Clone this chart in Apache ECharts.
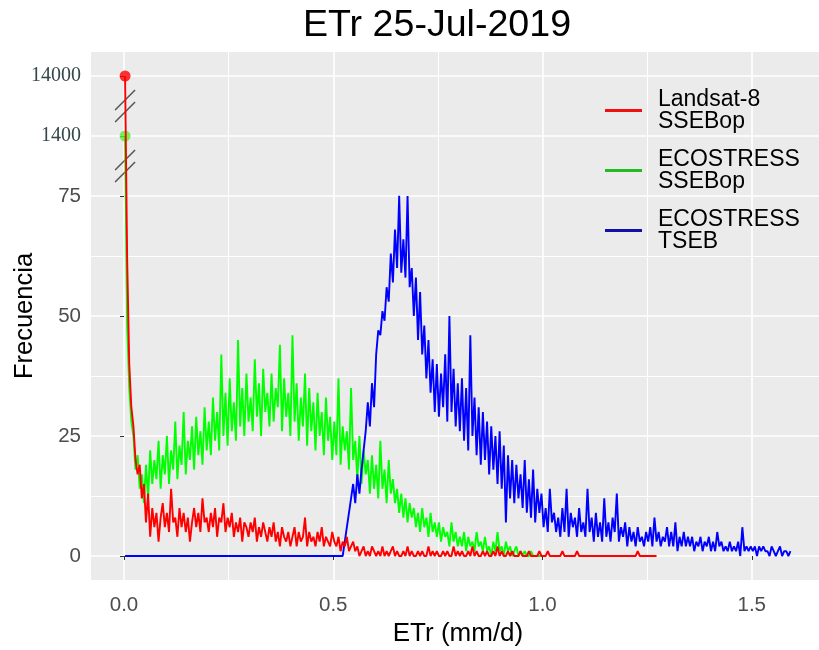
<!DOCTYPE html>
<html>
<head>
<meta charset="utf-8">
<script src="https://cdn.jsdelivr.net/npm/echarts@6/dist/echarts.min.js"></script>
<style>
    html, body { margin: 0; padding: 0; background: #ffffff; }
    #chart { width: 819px; height: 650px; }
</style>
</head>
<body>
<div id="chart"></div>
<script>
// bins of the frequency polygons (mm/d)
const binStart = 0.0025;
const binWidth = 0.005;

const landsatSsebop = [
    14000, 62, 40, 31, 27, 20, 17, 19, 12, 15,
    7, 13, 4, 10, 6, 9, 3, 8, 11, 6,
    9, 5, 14, 7, 8, 4, 10, 6, 9, 5,
    8, 3, 7, 10, 6, 9, 5, 12, 7, 8,
    5, 9, 6, 10, 4, 8, 7, 11, 5, 8,
    6, 9, 4, 7, 5, 8, 3, 7, 6, 4,
    7, 5, 8, 3, 6, 4, 7, 5, 3, 6,
    4, 7, 3, 5, 2, 6, 4, 3, 5, 2,
    4, 6, 2, 5, 3, 4, 8, 2, 5, 3,
    4, 2, 5, 3, 6, 2, 4, 3, 2, 5,
    3, 2, 4, 1, 3, 2, 4, 1, 2, 3,
    1, 2, 0, 1, 2, 0, 1, 0, 2, 1,
    0, 1, 0, 2, 0, 1, 0, 1, 2, 0,
    1, 0, 0, 1, 0, 2, 0, 1, 0, 0,
    1, 0, 1, 0, 0, 2, 0, 1, 0, 1,
    0, 0, 1, 0, 1, 0, 0, 2, 0, 1,
    0, 1, 0, 0, 1, 0, 2, 0, 1, 0,
    0, 1, 0, 1, 0, 0, 1, 0, 2, 0,
    1, 0, 0, 1, 0, 1, 0, 0, 0, 1,
    0, 0, 0, 1, 0, 0, 0, 0, 1, 0,
    0, 0, 1, 0, 0, 0, 0, 0, 0, 1,
    0, 0, 0, 0, 0, 0, 1, 0, 0, 0,
    0, 0, 0, 0, 0, 0, 0, 0, 0, 0,
    0, 0, 0, 0, 0, 0, 0, 0, 0, 0,
    0, 0, 0, 0, 0, 1, 0, 0, 0, 0,
    0, 0, 0, 0, 0
];

const ecostressSsebop = [
    1400, 48, 35, 28, 25, 18, 21, 14, 17, 11,
    19, 12, 22, 15, 20, 16, 24, 14, 21, 17,
    25, 15, 22, 18, 28, 16, 23, 19, 30, 17,
    24, 20, 27, 18, 29, 21, 26, 19, 31, 22,
    28, 21, 33, 24, 30, 22, 42, 25, 34, 23,
    37, 26, 32, 24, 45, 27, 35, 25, 38, 28,
    33, 26, 41, 29, 36, 25, 39, 30, 34, 27,
    38, 28, 35, 31, 44, 26, 37, 29, 34, 25,
    46, 28, 36, 24, 33, 27, 38, 23, 35, 26,
    32, 22, 34, 25, 30, 21, 33, 24, 29, 20,
    28, 21, 37, 19, 27, 22, 26, 18, 35, 20,
    24, 16, 25, 15, 22, 17, 20, 13, 21, 14,
    19, 12, 24, 14, 18, 11, 20, 13, 16, 11,
    14, 9, 13, 8, 12, 7, 11, 8, 10, 6,
    9, 5, 10, 6, 8, 4, 9, 5, 7, 4,
    7, 3, 6, 4, 5, 2, 7, 3, 5, 2,
    4, 2, 5, 1, 4, 2, 3, 1, 5, 2,
    3, 1, 4, 1, 2, 0, 3, 1, 5, 1,
    2, 0, 3, 1, 2, 0, 1, 2, 0, 1,
    0, 1, 0, 0, 1, 0, 0, 0, 0, 0
];

const ecostressTseb = [
    0, 0, 0, 0, 0, 0, 0, 0, 0, 0,
    0, 0, 0, 0, 0, 0, 0, 0, 0, 0,
    0, 0, 0, 0, 0, 0, 0, 0, 0, 0,
    0, 0, 0, 0, 0, 0, 0, 0, 0, 0,
    0, 0, 0, 0, 0, 0, 0, 0, 0, 0,
    0, 0, 0, 0, 0, 0, 0, 0, 0, 0,
    0, 0, 0, 0, 0, 0, 0, 0, 0, 0,
    0, 0, 0, 0, 0, 0, 0, 0, 0, 0,
    0, 0, 0, 0, 0, 0, 0, 0, 0, 0,
    0, 0, 0, 0, 0, 0, 0, 0, 0, 0,
    0, 0, 0, 0, 0, 3, 6, 9, 12, 15,
    11, 17, 13, 18, 22, 26, 32, 27, 36, 31,
    42, 47, 46, 51, 49, 56, 53, 63, 57, 68,
    60, 78, 59, 66, 58, 75, 56, 60, 50, 58,
    45, 55, 42, 48, 37, 45, 34, 41, 30, 40,
    29, 38, 31, 42, 28, 50, 30, 39, 27, 36,
    26, 37, 24, 35, 22, 46, 25, 33, 21, 31,
    19, 30, 20, 28, 17, 27, 18, 25, 15, 26,
    14, 23, 7, 21, 12, 20, 11, 19, 12, 17,
    10, 20, 9, 16, 8, 18, 7, 14, 9, 13,
    6, 10, 5, 14, 7, 9, 5, 8, 4, 10,
    5, 14, 4, 9, 6, 8, 4, 10, 5, 7,
    4, 14, 5, 8, 3, 9, 4, 7, 3, 12,
    4, 7, 3, 8, 5, 13, 3, 6, 4, 7,
    2, 6, 3, 5, 2, 6, 3, 4, 2, 5,
    3, 6, 2, 8, 3, 5, 2, 4, 3, 6,
    2, 5, 2, 7, 1, 4, 2, 5, 2, 4,
    2, 4, 1, 3, 2, 4, 1, 3, 2, 4,
    1, 3, 1, 5, 2, 3, 1, 2, 1, 3,
    1, 2, 1, 3, 0, 6, 1, 2, 1, 2,
    1, 2, 0, 2, 1, 2, 1, 1, 0, 2,
    1, 0, 1, 2, 0, 1, 1, 0, 1
];

const xTickValues = [0, 0.5, 1.0, 1.5];
const xMinorValues = [0.25, 0.75, 1.25];
const yTickValues = [0, 25, 50, 75, 1400, 14000];
const yMinorValues = [12.5, 37.5, 62.5];

// broken y axis: linear up to 75, then one 12.5-unit step per break
const breakValues = [75, 1400, 14000];
const breakStep = 12.5;

function toAxis(v) {
    if (v <= breakValues[0]) return v;
    for (let k = 1; k < breakValues.length; k++) {
        if (v <= breakValues[k] || k === breakValues.length - 1) {
            const lo = breakValues[k - 1], hi = breakValues[k];
            return breakValues[0] + (k - 1 + (v - lo) / (hi - lo)) * breakStep;
        }
    }
}

function toPoints(counts) {
    return counts.map((c, i) => [binStart + i * binWidth, toAxis(c)]);
}

const yTickPos = yTickValues.map(toAxis);
const breakMarks = breakValues.slice(1).map((v, k) => [binStart, breakValues[0] + (k + 0.5) * breakStep]);

const names = ['Landsat-8 SSEBop', 'ECOSTRESS SSEBop', 'ECOSTRESS TSEB'];
const colors = ['#ff0000', '#00ff00', '#0000ff'];

let chart = echarts.init(document.getElementById('chart'));

let option = {
    animation: false,
    backgroundColor: '#ffffff',
    textStyle: { fontFamily: 'Liberation Sans' },
    title: {
        text: 'ETr 25-Jul-2019',
        left: 303,
        top: 7,
        padding: 0,
        textStyle: { fontSize: 37.6, fontWeight: 'normal', color: '#000', fontFamily: 'Liberation Sans' }
    },
    grid: {
        left: 91,
        top: 52,
        width: 734,
        height: 528,
        show: true,
        backgroundColor: '#ebebeb',
        borderWidth: 0,
        outerBoundsMode: 'none',
        containLabel: false
    },
    legend: {
        orient: 'vertical',
        left: 605,
        top: 88,
        padding: 0,
        icon: 'rect',
        itemWidth: 37,
        itemHeight: 3,
        itemGap: 15,
        data: [
            { name: names[0], itemStyle: { color: '#f01010' } },
            { name: names[1], itemStyle: { color: '#22bb22' } },
            { name: names[2], itemStyle: { color: '#1010aa' } }
        ],
        formatter: n => n.replace(' ', '\n'),
        textStyle: {
            fontSize: 23,
            lineHeight: 22,
            color: '#000',
            fontFamily: 'Liberation Sans',
            padding: [0, 0, 0, 11]
        }
    },
    xAxis: [
        {
            type: 'value',
            min: -0.0789,
            max: 1.675,
            name: 'ETr (mm/d)',
            nameLocation: 'middle',
            nameGap: 40,
            nameTextStyle: { fontSize: 26, color: '#000' },
            axisLine: { show: false },
            axisTick: { show: true, length: 4, lineStyle: { color: '#333' }, customValues: xTickValues },
            axisLabel: {
                customValues: xTickValues,
                margin: 15,
                fontSize: 20.5,
                color: '#4d4d4d',
                formatter: v => v.toFixed(1)
            },
            splitLine: { show: true, lineStyle: { color: '#ffffff', width: 1.6 } }
        },
        {
            type: 'value',
            min: -0.0789,
            max: 1.675,
            position: 'bottom',
            axisLine: { show: false },
            axisTick: { show: false, customValues: xMinorValues },
            axisLabel: { show: false, customValues: xMinorValues },
            splitLine: { show: true, lineStyle: { color: '#ffffff', width: 1 } }
        }
    ],
    yAxis: [
        {
            type: 'value',
            min: -5,
            max: 105,
            name: 'Frecuencia',
            nameLocation: 'middle',
            nameGap: 53,
            nameMoveOverlap: false,
            nameTextStyle: { fontSize: 25.5, color: '#000' },
            axisLine: { show: false },
            axisTick: { show: true, length: 4, lineStyle: { color: '#333' }, customValues: yTickPos },
            axisLabel: {
                customValues: yTickPos,
                margin: 10,
                formatter: v => {
                    const i = yTickPos.findIndex(p => Math.abs(p - v) < 1e-6);
                    const t = yTickValues[i];
                    return t > breakValues[0] ? '{brk|' + t + '}' : '{num|' + t + '}';
                },
                rich: {
                    num: { fontSize: 20.5, color: '#4d4d4d', fontFamily: 'Liberation Sans' },
                    brk: { fontSize: 20, color: '#34484a', fontFamily: 'Liberation Serif' }
                }
            },
            splitLine: { show: true, lineStyle: { color: '#ffffff', width: 1.6 } }
        },
        {
            type: 'value',
            min: -5,
            max: 105,
            position: 'left',
            axisLine: { show: false },
            axisTick: { show: false, customValues: yMinorValues },
            axisLabel: { show: false, customValues: yMinorValues },
            splitLine: { show: true, lineStyle: { color: '#ffffff', width: 1 } }
        }
    ],
    series: [
        {
            name: names[1],
            type: 'line',
            data: toPoints(ecostressSsebop),
            showSymbol: false,
            color: colors[1],
            lineStyle: { width: 1.9, color: colors[1] }
        },
        {
            name: names[2],
            type: 'line',
            data: toPoints(ecostressTseb),
            showSymbol: false,
            color: colors[2],
            lineStyle: { width: 1.9, color: colors[2] }
        },
        {
            name: names[0],
            type: 'line',
            data: toPoints(landsatSsebop),
            showSymbol: false,
            color: colors[0],
            lineStyle: { width: 1.9, color: colors[0] }
        },
        {
            type: 'scatter',
            symbolSize: 11,
            silent: true,
            data: [
                { value: toPoints(landsatSsebop)[0], itemStyle: { color: '#ff0000' } },
                { value: toPoints(ecostressSsebop)[0], itemStyle: { color: '#55ee33' } }
            ]
        },
        {
            type: 'custom',
            silent: true,
            data: breakMarks,
            renderItem: (params, api) => {
                const p = api.coord([api.value(0), api.value(1)]);
                return {
                    type: 'group',
                    children: [-6, 6].map(o => ({
                        type: 'line',
                        shape: { x1: p[0] - 10, y1: p[1] + o + 10, x2: p[0] + 10, y2: p[1] + o - 10 },
                        style: { stroke: '#555555', lineWidth: 1.5 }
                    }))
                };
            }
        }
    ]
};

chart.setOption(option);

window.addEventListener('resize', () => {
    chart.resize();
});
</script>
</body>
</html>
